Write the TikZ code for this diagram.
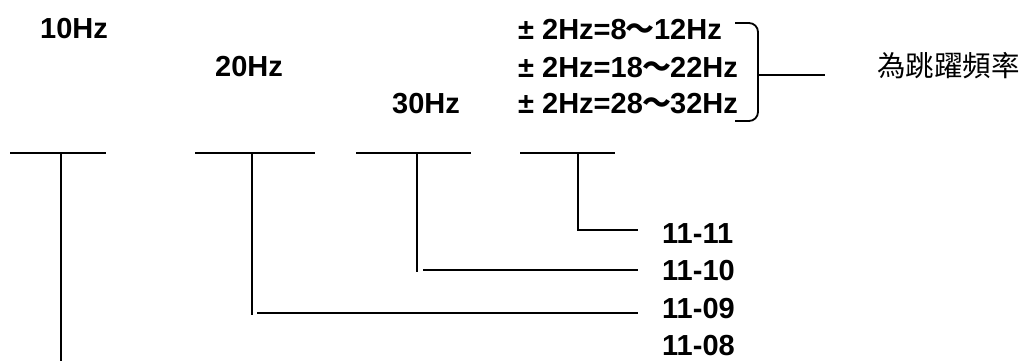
\documentclass[tikz,border=0pt]{standalone}
\usepackage{fontspec}
\setmainfont{Liberation Sans}
\newfontfamily\cjk{Noto Sans CJK TC}
\begin{document}
\begin{tikzpicture}[x=1pt,y=-1pt,
  ln/.style={line width=1.8pt,line cap=butt},
  lbl/.style={inner sep=0pt,font=\fontsize{29}{33}\selectfont\bfseries},
  cjklbl/.style={inner sep=0pt,font=\fontsize{28.5}{33}\selectfont\cjk}]
\useasboundingbox (0,0) rectangle (1024,360);
% frequency labels
\node[lbl,anchor=base west] (f10) at (40,38.5) {10Hz};
\node[lbl,anchor=base west] (f20) at (215,76) {20Hz};
\node[lbl,anchor=base west] (f30) at (392,113) {30Hz};
\node[lbl,anchor=base west] (r1) at (518,39.5) {± 2Hz=8{\cjk\kern-0.03em～\kern-0.03em}12Hz};
\node[lbl,anchor=base west] (r2) at (518,77) {± 2Hz=18{\cjk\kern-0.03em～\kern-0.03em}22Hz};
\node[lbl,anchor=base west] (r3) at (518,113) {± 2Hz=28{\cjk\kern-0.03em～\kern-0.03em}32Hz};
\node[cjklbl,anchor=west] (jump) at (877,66) {為跳躍頻率};
% parameter labels
\node[lbl,anchor=base west] (p11) at (662,243) {11-11};
\node[lbl,anchor=base west] (p10) at (662,280) {11-10};
\node[lbl,anchor=base west] (p09) at (662,318) {11-09};
\node[lbl,anchor=base west] (p08) at (662,355) {11-08};
% top bars
\coordinate (a1) at (10,153);  \coordinate (b1) at (106,153);
\coordinate (a2) at (195,153); \coordinate (b2) at (315,153);
\coordinate (a3) at (356,153); \coordinate (b3) at (471,153);
\coordinate (a4) at (520,153); \coordinate (b4) at (615,153);
\draw[ln] (a1) -- (b1);
\draw[ln] (a2) -- (b2);
\draw[ln] (a3) -- (b3);
\draw[ln] (a4) -- (b4);
% stems
\coordinate (v1) at (61,153);  \coordinate (w1) at (61,362);
\coordinate (v2) at (252,153); \coordinate (w2) at (252,315);
\coordinate (v3) at (417,153); \coordinate (w3) at (417,272);
\coordinate (v4) at (578,153);
\coordinate (e11) at (638,230);
\coordinate (s10) at (423,270); \coordinate (e10) at (638,270);
\coordinate (s09) at (257,313); \coordinate (e09) at (638,313);
\draw[ln] (v1) -- (w1);
\draw[ln] (v2) -- (w2);
\draw[ln] (v3) -- (w3);
\draw[ln] (v4) |- (e11);
\draw[ln] (s10) -- (e10);
\draw[ln] (s09) -- (e09);
% bracket
\coordinate (bt) at (735,23); \coordinate (bb) at (735,121);
\coordinate (bm) at (758,75); \coordinate (be) at (825,75);
\draw[ln,rounded corners=9pt] (bt) -- (758,23) -- (758,121) -- (bb);
\draw[ln] (bm) -- (be);
\end{tikzpicture}
\end{document}
